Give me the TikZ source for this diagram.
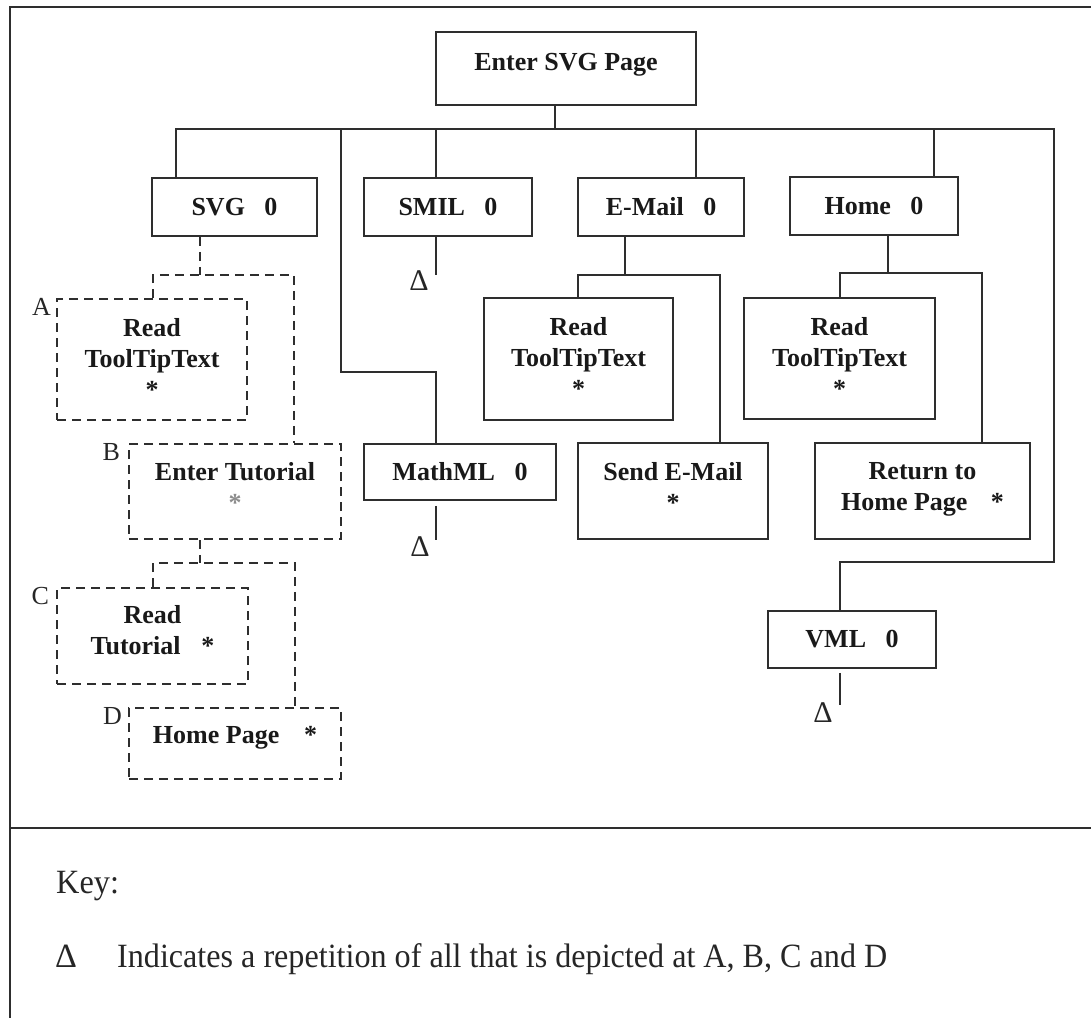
\documentclass[tikz,border=0pt]{standalone}
\usepackage{fontspec}
\setmainfont{Liberation Serif}
% zero-width strut that adds depth below a line of node text
\newcommand\lowr[1]{\rule[-#1]{0pt}{#1}}
\begin{document}
\begin{tikzpicture}[x=1pt,y=-1pt,
  linecol/.style={draw=black!82},
  box/.style={linecol, line width=1.6pt, inner sep=0pt, align=center,
    font=\fontsize{26}{31}\selectfont\bfseries, text=black!90},
  dbox/.style={box, dash pattern=on 9pt off 6pt},
  conn/.style={linecol, line width=1.6pt},
  dconn/.style={conn, dash pattern=on 9pt off 6pt},
  frame/.style={linecol, line width=1.8pt},
  lbl/.style={inner sep=0pt, font=\fontsize{26}{31}\selectfont, text=black!85},
  tri/.style={inner sep=0pt, font=\fontsize{30}{36}\selectfont, text=black!85},
  keytxt/.style={inner sep=0pt, font=\fontsize{34}{40}\selectfont, text=black!85}]
\useasboundingbox (0,0) rectangle (1091,1018);

% outer frame and divider above the key
\draw[frame] (1091,7) -- (10,7) -- (10,1018);
\draw[frame] (10,828) -- (1091,828);

% top level
\node[box, minimum width=260, minimum height=73] (enter) at (566,68.5) {Enter SVG Page\lowr{13.2pt}};

% second level
\node[box, minimum width=165, minimum height=58] (svg)   at (234.5,207) {SVG\hspace{0.75em}0};
\node[box, minimum width=168, minimum height=58] (smil)  at (448,207)   {SMIL\hspace{0.75em}0};
\node[box, minimum width=166, minimum height=58] (email) at (661,207)   {E-Mail\hspace{0.75em}0};
\node[box, minimum width=168, minimum height=58] (home)  at (874,206)   {Home\hspace{0.75em}0};
\node[box, minimum width=192, minimum height=56] (mathml) at (460,472)  {MathML\hspace{0.75em}0};
\node[box, minimum width=168, minimum height=57] (vml)   at (852,639.5) {VML\hspace{0.75em}0};

% E-Mail and Home children
\node[box, minimum width=189, minimum height=122] (emread) at (578.5,359) {Read\\ToolTipText\\*\lowr{3pt}};
\node[box, minimum width=190, minimum height=96] (send) at (673,491) {Send E-Mail\\*\lowr{7.3pt}};
\node[box, minimum width=191, minimum height=121] (homeread) at (839.5,358.5) {Read\\ToolTipText\\*\lowr{3pt}};
\node[box, minimum width=215, minimum height=96] (ret) at (922.5,491) {Return to\\Home Page\hspace{0.9em}*\lowr{9.3pt}};

% SVG sequence A-D (dashed)
\node[dbox, minimum width=190, minimum height=121] (boxA) at (152,359.5) {Read\\ToolTipText\\*\lowr{3pt}};
\node[dbox, minimum width=212, minimum height=95] (boxB) at (235,491.5) {Enter Tutorial\\{\color{black!45}*}\lowr{8.3pt}};
\node[dbox, minimum width=191, minimum height=96] (boxC) at (152.5,636) {Read\\Tutorial\hspace{0.8em}*\lowr{11.3pt}};
\node[dbox, minimum width=212, minimum height=71] (boxD) at (235,743.5) {Home Page\hspace{0.95em}*\lowr{17.2pt}};

\node[lbl, anchor=north east] (labA) at ([xshift=-5pt]boxA.north west) {A};
\node[lbl, anchor=north east] (labB) at ([xshift=-8pt]boxB.north west) {B};
\node[lbl, anchor=north east] (labC) at ([xshift=-7pt]boxC.north west) {C};
\node[lbl, anchor=north east] (labD) at ([xshift=-6pt]boxD.north west) {D};

% junction points of the tree
\coordinate (stem) at (555,129);
\coordinate (busL) at (176,129);
\coordinate (busR) at (1054,129);
\coordinate (mmTop) at (341,129);
\coordinate (mmKnee) at (436,372);
\coordinate (vmlKnee) at (840,562);
\coordinate (emJ) at (625,275);
\coordinate (hmJ) at (888,273);
\coordinate (jA) at (200,275);
\coordinate (jC) at (200,563);

% main bus
\draw[conn] (enter.south -| stem) -- (stem);
\draw[conn] (svg.north -| busL) -- (busL) -- (busR) |- (vmlKnee) -- (vml.north -| vmlKnee);
\draw[conn] (mmTop) |- (mmKnee) -- (mathml.north -| mmKnee);
\draw[conn] (smil.north -| 436,0) -- (436,129);
\draw[conn] (email.north -| 696,0) -- (696,129);
\draw[conn] (home.north -| 934,0) -- (934,129);

% E-Mail branch
\draw[conn] (email.south -| emJ) -- (emJ);
\draw[conn] (emread.north -| 578,0) |- (720,275) -- (send.north -| 720,0);

% Home branch
\draw[conn] (home.south -| hmJ) -- (hmJ);
\draw[conn] (homeread.north -| 840,0) |- (982,273) -- (ret.north -| 982,0);

% SVG branch (dashed)
\draw[dconn] (svg.south -| jA) -- (jA);
\draw[dconn] (boxA.north -| 153,0) |- (294,275) -- (boxB.north -| 294,0);
\draw[dconn] (boxB.south -| jC) -- (jC);
\draw[dconn] (boxC.north -| 153,0) |- (295,563) -- (boxD.north -| 295,0);

% repetition marks
\coordinate (tSmil) at (436,275);
\coordinate (tMath) at (436,540);
\coordinate (tVml) at (840,705);
\draw[conn] (smil.south -| tSmil) -- (tSmil);
\draw[conn] ([yshift=-5pt]mathml.south -| tMath) -- (tMath);
\draw[conn] ([yshift=-4pt]vml.south -| tVml) -- (tVml);
\node[tri] (dSmil) at (419,281) {Δ};
\node[tri] (dMath) at (420,547) {Δ};
\node[tri] (dVml) at (823,713) {Δ};

% key
\node[keytxt, anchor=base west] (key) at (56,893) {\scalebox{0.95}[1]{Key:}};
\node[keytxt, anchor=base west] (keysym) at (55,967) {Δ};
\node[keytxt, anchor=base west] (keydesc) at (117,967) {\scalebox{0.945}[1]{Indicates a repetition of all that is depicted at A, B, C and D}};
\end{tikzpicture}
\end{document}
